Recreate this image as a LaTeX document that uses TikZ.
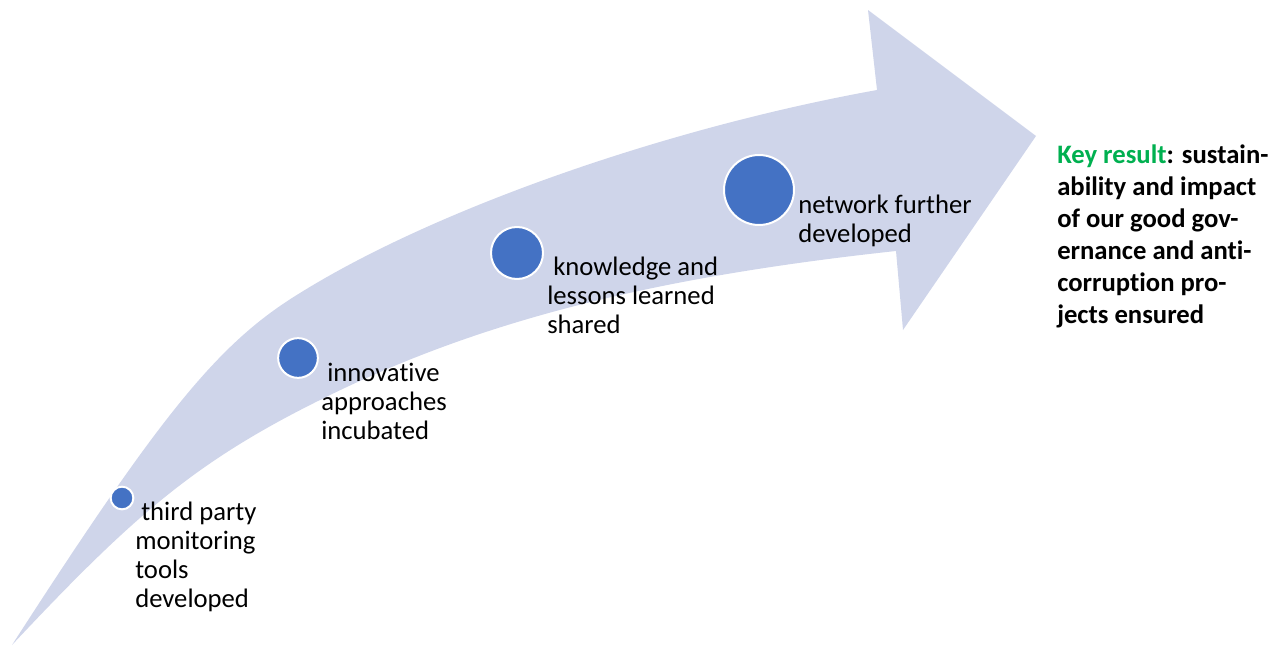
\documentclass[tikz,border=0pt]{standalone}
\usepackage{fontspec}
\setmainfont{Carlito}[Ligatures=NoCommon]
\definecolor{arrowfill}{HTML}{CFD5EA}
\definecolor{dotblue}{HTML}{4472C4}
\definecolor{keygreen}{HTML}{00B050}
\begin{document}
\begin{tikzpicture}[x=0.75pt,y=-0.75pt,
  dot/.style={circle, fill=dotblue, draw=white, line width=1.5pt, inner sep=0pt},
  lbl/.style={anchor=base west, align=left, inner sep=0pt, font=\fontsize{20}{21.75}\selectfont},
  keylbl/.style={anchor=base west, align=left, inner sep=0pt, font=\fontsize{20}{24}\selectfont\bfseries}]
\useasboundingbox (0,0) rectangle (1282,646);
% curved arrow
\fill[arrowfill]
  (12,645) .. controls (161,414) and (218,343) .. (300,293)
  .. controls (435,209) and (666,128) .. (877,90)
  -- (868,10) -- (1036,136) -- (903,330) -- (896,251)
  .. controls (646,278) and (474,323) .. (320,400)
  .. controls (195,462) and (133,516) .. (12,645)
  -- cycle;
% milestones
\node[dot, minimum size=17pt] (c1) at (122,498) {};
\node[dot, minimum size=29.8pt] (c2) at (298,358) {};
\node[dot, minimum size=39pt] (c3) at (517,253) {};
\node[dot, minimum size=52.5pt] (c4) at (759,190) {};
% labels (anchored at the baseline of the last line)
\node[lbl] (t1) at (135,607) {\kern4.5pt third party\\monitoring\\tools\\developed};
\node[lbl] (t2) at (321,439) {\kern4.5pt innovative\\approaches\\incubated};
\node[lbl] (t3) at (547,333) {\kern4.5pt knowledge and\\lessons learned\\shared};
\node[lbl] (t4) at (798,242) {network further\\developed};
\node[keylbl] (t5) at (1057,323) {\textcolor{keygreen}{Key result}: sustain-\\ability and impact\\of our good gov-\\ernance and anti-\\corruption pro-\\jects ensured};
\end{tikzpicture}
\end{document}
